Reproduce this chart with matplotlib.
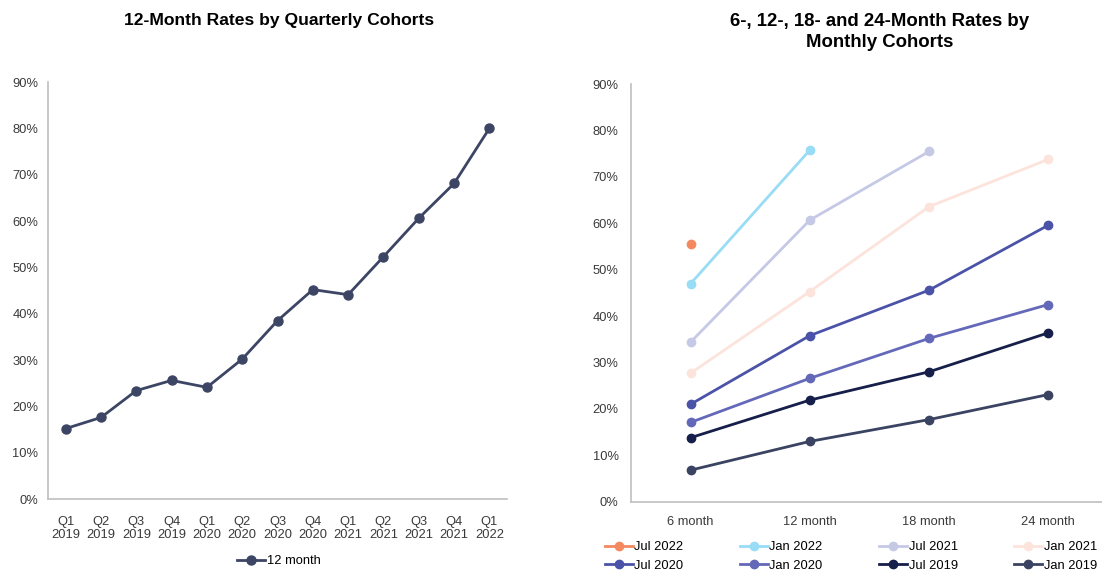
import numpy as np
import matplotlib.pyplot as plt
from matplotlib.ticker import PercentFormatter

plt.rcParams['font.family'] = ['Liberation Sans', 'DejaVu Sans']

# -----------------------------
# data
# -----------------------------
quarters = ['Q1\n2019', 'Q2\n2019', 'Q3\n2019', 'Q4\n2019', 'Q1\n2020', 'Q2\n2020', 'Q3\n2020',
            'Q4\n2020', 'Q1\n2021', 'Q2\n2021', 'Q3\n2021', 'Q4\n2021', 'Q1\n2022']
rate_12m = [15.2, 17.6, 23.4, 25.6, 24.1, 30.2, 38.5, 45.2, 44.1, 52.3, 60.6, 68.1, 80.0]

horizons = ['6 month', '12 month', '18 month', '24 month']
cohorts = ['Jul 2022', 'Jan 2022', 'Jul 2021', 'Jan 2021', 'Jul 2020', 'Jan 2020', 'Jul 2019', 'Jan 2019']
jul_2022 = [55.6, np.nan, np.nan, np.nan]
jan_2022 = [47.0, 75.8, np.nan, np.nan]
jul_2021 = [34.4, 60.7, 75.5, np.nan]
jan_2021 = [27.7, 45.3, 63.6, 73.8]
jul_2020 = [21.0, 35.8, 45.6, 59.6]
jan_2020 = [17.1, 26.6, 35.2, 42.5]
jul_2019 = [13.8, 21.9, 28.0, 36.4]
jan_2019 = [6.8, 13.0, 17.7, 23.1]
cohort_values = [jul_2022, jan_2022, jul_2021, jan_2021, jul_2020, jan_2020, jul_2019, jan_2019]
cohort_colors = ['#F4895F', '#98DCF5', '#C5C9E6', '#FCE3DC', '#4B53A8', '#6468B8', '#161E4A', '#3A4361']

spine_col = '#BFBFBF'
text_col = '#3A3A3A'


def style_axes(ax):
    ax.spines['top'].set_visible(False)
    ax.spines['right'].set_visible(False)
    ax.spines['left'].set_color(spine_col)
    ax.spines['bottom'].set_color(spine_col)
    ax.spines['left'].set_linewidth(1.2)
    ax.spines['bottom'].set_linewidth(1.2)
    ax.set_ylim(0, 90)
    ax.set_yticks(np.arange(0, 91, 10))
    ax.yaxis.set_major_formatter(PercentFormatter(decimals=0))
    ax.tick_params(length=0, labelsize=9.3, colors=text_col)


fig = plt.figure(figsize=(11.02, 5.72), dpi=100)

# -----------------------------
# left: quarterly cohorts
# -----------------------------
ax1 = fig.add_axes([0.0436, 0.1276, 0.4165, 0.729])
x1 = np.arange(len(quarters))
ax1.plot(x1, rate_12m, color='#3D4564', lw=2, marker='o', ms=6.5, label='12 month')
ax1.set_xlim(-0.5, len(quarters) - 0.5)
ax1.set_xticks(x1)
ax1.set_xticklabels(quarters)
style_axes(ax1)
ax1.tick_params(axis='x', pad=12)
ax1.tick_params(axis='y', pad=7)
fig.text(0.253, 0.965, '12-Month Rates by Quarterly Cohorts', fontsize=12.6,
         fontweight='bold', ha='center', va='center')
h1, l1 = ax1.get_legend_handles_labels()
fig.legend(h1, l1, loc='center', bbox_to_anchor=(0.253, 0.019), frameon=False,
           fontsize=9.3, handlelength=2.2, handletextpad=0.1, borderpad=0)

# -----------------------------
# right: monthly cohorts
# -----------------------------
ax2 = fig.add_axes([0.5726, 0.1229, 0.4328, 0.730])
x2 = np.arange(len(horizons))
lines = []
for name, vals, col in zip(cohorts, cohort_values, cohort_colors):
    ln, = ax2.plot(x2, vals, color=col, lw=2, marker='o', ms=6, label=name)
    lines.append(ln)
ax2.set_xlim(-0.5, len(horizons) - 0.5)
ax2.set_xticks(x2)
ax2.set_xticklabels(horizons)
style_axes(ax2)
ax2.tick_params(axis='x', pad=10)
ax2.tick_params(axis='y', pad=9)
fig.text(0.7985, 0.944, '6-, 12-, 18- and 24-Month Rates by\nMonthly Cohorts', fontsize=13.4,
         fontweight='bold', ha='center', va='center', linespacing=1.35)

# legend rows: first four cohorts on top, last four below
order = [0, 4, 1, 5, 2, 6, 3, 7]
fig.legend([lines[i] for i in order], [cohorts[i] for i in order], ncol=4,
           loc='center', bbox_to_anchor=(0.772, 0.027), frameon=False, fontsize=9.3,
           handlelength=2.2, handletextpad=0.1, columnspacing=4.35, labelspacing=0.5,
           borderpad=0)

fig.savefig('out.png', dpi=100)
